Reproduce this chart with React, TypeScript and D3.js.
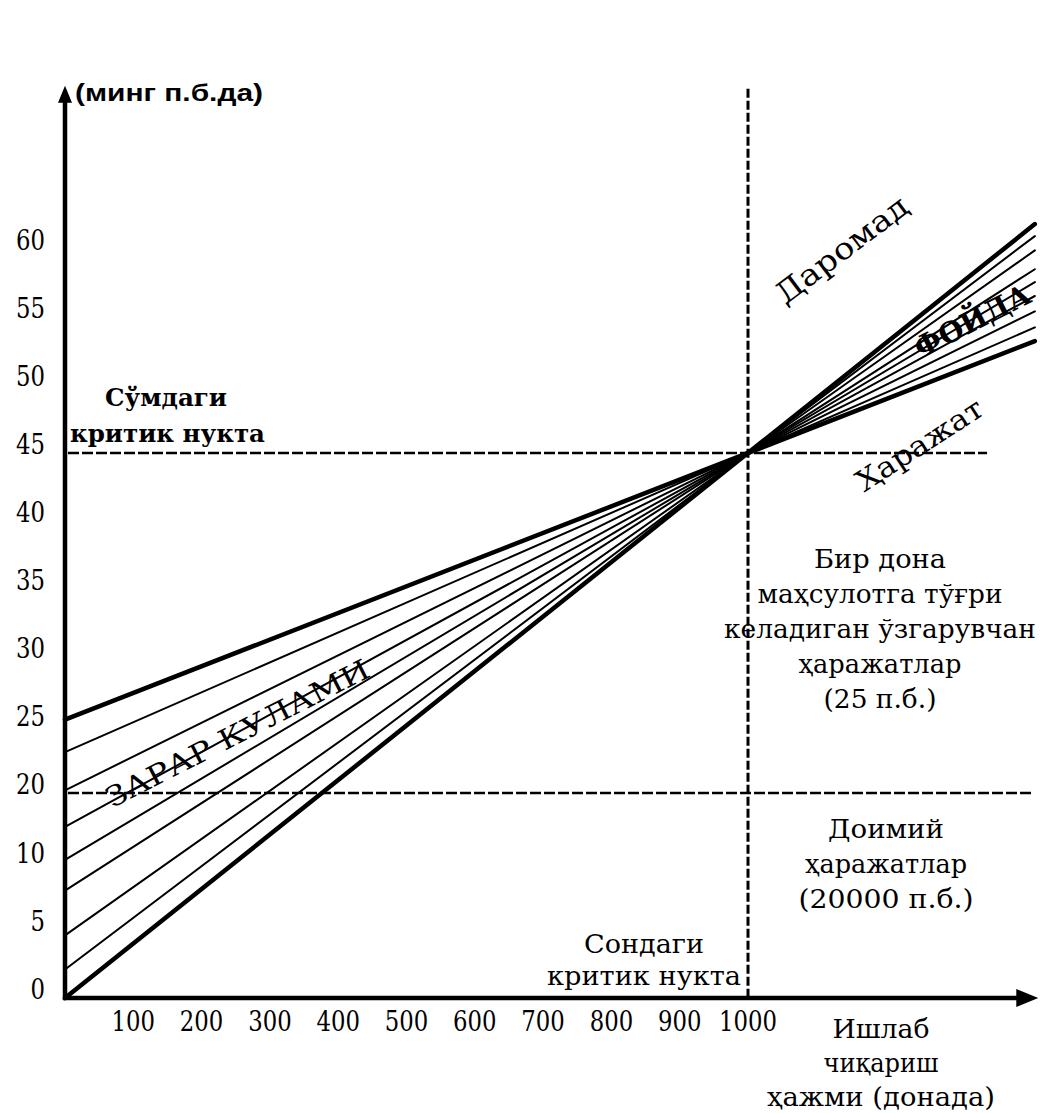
import React from "react";
import * as d3 from "d3";

// ---- data ----
const yTickValues = [0, 5, 10, 20, 25, 30, 35, 40, 45, 50, 55, 60];
const xTickValues = [100, 200, 300, 400, 500, 600, 700, 800, 900, 1000];
// value at zero output for each line of the fan (top = cost, bottom = revenue)
const lineStartValues = [25.4, 23, 20.2, 15.1, 10.3, 7.9, 4.6, 2.1, 0];
const breakEvenQty = 1000;
const breakEvenValue = 45;
const fixedCostValue = 20;
const lineEndQty = 1420;
const xAxisMax = 1425;
const yAxisMax = 72;
const breakEvenDashEndQty = 1350;
const fixedDashEndQty = 1417;

const yAxisTitle = "(минг п.б.да)";
const labelLoss = "ЗАРАР КУЛАМИ";
const labelProfit = "ФОЙДА";
const labelRevenue = "Даромад";
const labelCost = "Ҳаражат";
const labelBEValue = ["Сўмдаги", "критик нукта"];
const labelBEQty = ["Сондаги", "критик нукта"];
const labelVariable = ["Бир дона", "маҳсулотга тўғри", "келадиган ўзгарувчан", "ҳаражатлар", "(25 п.б.)"];
const labelFixed = ["Доимий", "ҳаражатлар", "(20000  п.б.)"];
const labelXAxis = ["Ишлаб", "чиқариш", "ҳажми (донада)"];

const W = 1044;
const H = 1113;
const SERIF = "DejaVu Serif, serif";
const SANS = "Liberation Sans, Arimo, sans-serif";
const DIGIT_W = 14.5;

export default function App() {
  const xs = d3.scaleLinear().domain([0, 1000]).range([65, 748]);
  const ys = d3.scaleLinear().domain([0, 10, 20, 60]).range([998, 862, 793, 249]);

  const x0 = xs(0);
  const y0 = ys(0);
  const beX = xs(breakEvenQty);
  const beY = ys(breakEvenValue);
  const line = d3.line();

  const fan = lineStartValues.map((v, i) => {
    const sy = ys(v);
    const t = (xs(lineEndQty) - x0) / (beX - x0);
    const end: [number, number] = [x0 + t * (beX - x0), sy + t * (beY - sy)];
    return {
      d: line([[x0, sy], end]) as string,
      thick: i === 0 || i === lineStartValues.length - 1,
    };
  });

  const xEnd = xs(xAxisMax);
  const yTop = ys(yAxisMax);

  const textBlock = (lines: string[], cx: number, y: number, step: number, widths: number[], size: number, family = SERIF, weight: any = "normal") =>
    lines.map((s, i) => (
      <text
        key={s + i}
        x={cx}
        y={y + i * step}
        textAnchor="middle"
        style={{ fontFamily: family }}
        fontSize={size}
        fontWeight={weight}
        textLength={widths[i]}
        lengthAdjust="spacingAndGlyphs"
      >
        {s}
      </text>
    ));

  return (
    <svg width={W} height={H} style={{ position: "absolute", left: 0, top: 0, background: "#fff" }}>
      <rect x={0} y={0} width={W} height={H} fill="#fff" />

      {/* dashed reference lines */}
      <line x1={x0 + 3} x2={xs(breakEvenDashEndQty)} y1={beY} y2={beY} stroke="#000" strokeWidth={2.6} strokeDasharray="11 3" />
      <line x1={x0 + 3} x2={xs(fixedDashEndQty)} y1={ys(fixedCostValue)} y2={ys(fixedCostValue)} stroke="#000" strokeWidth={2.6} strokeDasharray="11 3" />
      <line x1={beX} x2={beX} y1={yTop + 3} y2={y0} stroke="#000" strokeWidth={3} strokeDasharray="9 3" />

      {/* fan of lines */}
      {fan.map((f, i) => (
        <path key={i} d={f.d} fill="none" stroke="#000" strokeWidth={f.thick ? 4.5 : 2} strokeLinecap="round" />
      ))}

      {/* axes */}
      <line x1={x0} x2={x0} y1={y0 + 2} y2={yTop + 12} stroke="#000" strokeWidth={4.5} />
      <polygon points={`${x0},${yTop} ${x0 - 7},${yTop + 17} ${x0 + 7},${yTop + 17}`} fill="#000" />
      <line x1={x0 - 2} x2={xEnd - 15} y1={y0} y2={y0} stroke="#000" strokeWidth={4.5} />
      <polygon points={`${xEnd},${y0} ${xEnd - 22},${y0 - 9} ${xEnd - 22},${y0 + 9}`} fill="#000" />

      {/* y tick labels */}
      {yTickValues.map((v) => (
        <text
          key={v}
          x={45}
          y={ys(v) + 1}
          textAnchor="end"
          style={{ fontFamily: SERIF }}
          fontSize={28}
          textLength={String(v).length * DIGIT_W}
          lengthAdjust="spacingAndGlyphs"
        >
          {v}
        </text>
      ))}
      {/* x tick labels */}
      {xTickValues.map((v) => (
        <text
          key={v}
          x={xs(v)}
          y={1031}
          textAnchor="middle"
          style={{ fontFamily: SERIF }}
          fontSize={28}
          textLength={String(v).length * DIGIT_W}
          lengthAdjust="spacingAndGlyphs"
        >
          {v}
        </text>
      ))}

      {/* axis title */}
      <text x={75} y={101} style={{ fontFamily: SANS }} fontWeight="bold" fontSize={24} textLength={188} lengthAdjust="spacingAndGlyphs">
        {yAxisTitle}
      </text>

      {/* break-even labels */}
      <text x={105} y={406} style={{ fontFamily: SERIF }} fontWeight="bold" fontSize={25} textLength={122} lengthAdjust="spacingAndGlyphs">
        {labelBEValue[0]}
      </text>
      <text x={70} y={442} style={{ fontFamily: SERIF }} fontWeight="bold" fontSize={25} textLength={195} lengthAdjust="spacingAndGlyphs">
        {labelBEValue[1]}
      </text>
      {textBlock(labelBEQty, 644, 953, 32, [120, 194], 26)}

      {/* right-side notes */}
      {textBlock(labelVariable, 880, 568, 35, [132, 245, 312, 163, 113], 26)}
      {textBlock(labelFixed, 886, 838, 35, [116, 162, 175], 26)}
      {textBlock(labelXAxis, 881, 1038, 34, [97, 115, 228], 26)}

      {/* rotated labels */}
      <text transform="translate(848,258) rotate(-37)" textAnchor="middle" style={{ fontFamily: SERIF }} fontSize={30} textLength={158} lengthAdjust="spacingAndGlyphs">
        {labelRevenue}
      </text>
      <text transform="translate(977,330) rotate(-27)" textAnchor="middle" style={{ fontFamily: SERIF }} fontWeight="bold" fontSize={29} textLength={126} lengthAdjust="spacingAndGlyphs">
        {labelProfit}
      </text>
      <text transform="translate(925,453) rotate(-33)" textAnchor="middle" style={{ fontFamily: SERIF }} fontSize={29} textLength={145} lengthAdjust="spacingAndGlyphs">
        {labelCost}
      </text>
      <text transform="translate(242,742) rotate(-27)" textAnchor="middle" style={{ fontFamily: SERIF }} fontSize={28} textLength={292} lengthAdjust="spacingAndGlyphs">
        {labelLoss}
      </text>
    </svg>
  );
}
